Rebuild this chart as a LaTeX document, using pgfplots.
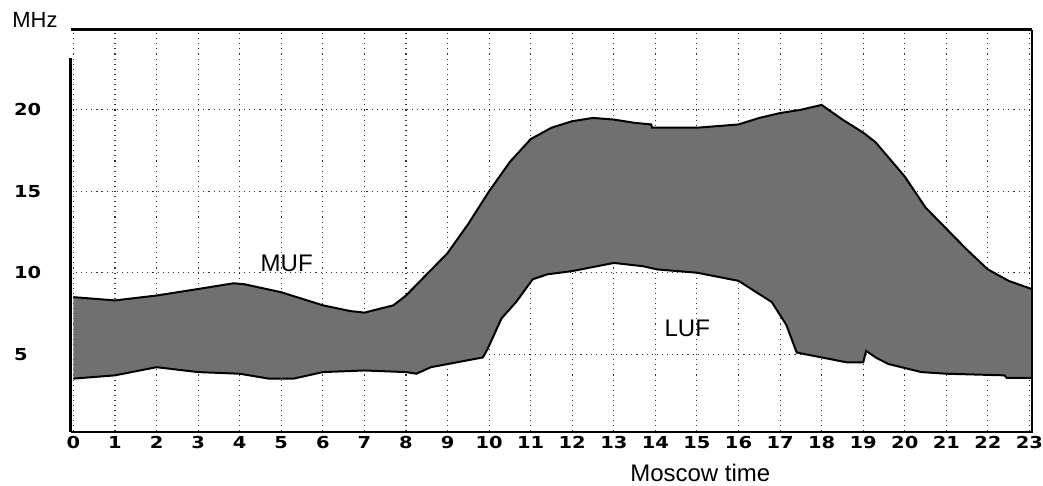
\documentclass[border=0pt]{standalone}
\usepackage{pgfplots}
\pgfplotsset{compat=1.18}
\usepgfplotslibrary{fillbetween}
\usepackage{pgfplotstable}
\usepackage{fontspec}
\setmainfont{Liberation Sans}
\newfontfamily\tickfont{DejaVu Sans}[FakeStretch=1.18]
\definecolor{bandgray}{RGB}{112,112,112}

\pgfplotstableread{
h f
0 8.5
1 8.3
2 8.6
3 9.0
3.85 9.35
4.1 9.3
5 8.8
6 8.0
6.65 7.65
7 7.55
7.7 8.0
8 8.6
8.5 9.9
9 11.2
9.5 13.0
10 15.0
10.5 16.8
11 18.2
11.5 18.9
12 19.3
12.5 19.5
13 19.4
13.5 19.2
13.9 19.1
13.92 18.9
15 18.9
16 19.1
16.5 19.5
17 19.8
17.5 20.0
18 20.3
18.5 19.4
19 18.6
19.3 18.0
20 15.9
20.5 14.0
21 12.7
21.5 11.4
22 10.2
22.5 9.5
23.05 9.0
}\muf

\pgfplotstableread{
h f
0 3.5
1 3.7
2 4.2
3 3.9
4 3.8
4.7 3.5
5.3 3.5
6 3.9
7 4.0
8 3.9
8.25 3.8
8.6 4.2
9.85 4.8
9.96 5.3
10.3 7.2
10.65 8.2
11.05 9.6
11.4 9.9
12 10.1
13 10.6
13.7 10.4
14.05 10.2
15 10.0
16 9.5
16.8 8.2
17.15 6.8
17.4 5.1
18 4.8
18.6 4.5
19 4.5
19.07 5.2
19.3 4.8
19.6 4.4
20.4 3.9
21 3.8
22.4 3.7
22.45 3.55
23.05 3.55
}\luf

\begin{document}
\begin{tikzpicture}
\begin{axis}[
  at={(71pt,54pt)}, anchor=south west, scale only axis,
  width=962pt, height=402pt,
  xmin=-0.06, xmax=23.06, ymin=0.25, ymax=24.9,
  xtick={0,...,23}, ytick={5,10,15,20},
  major tick length=0pt,
  grid=major,
  grid style={black!80, line width=1.1pt, dash pattern=on 1.1pt off 4pt},
  axis line style={draw=none},
  clip=false,
  /pgf/number format/assume math mode=true,
  tick label style={font=\tickfont\bfseries\fontsize{16.5}{20}\selectfont},
  yticklabel style={anchor=west, inner sep=0pt, xshift=-57pt},
  xticklabel style={inner sep=0pt, yshift=-5pt},
]
\addplot[draw=none, name path=A] table[x=h, y=f] {\muf};
\addplot[draw=none, name path=B] table[x=h, y=f] {\luf};
\addplot[fill=bandgray, draw=none] fill between[of=A and B];
\addplot[black, line width=2pt] table[x=h, y=f] {\muf};
\addplot[black, line width=2pt] table[x=h, y=f] {\luf};
\draw[line width=3pt] (rel axis cs:0,1) -- (rel axis cs:1,1);
\draw[line width=2pt] (rel axis cs:1,1) -- (rel axis cs:1,0) -- (rel axis cs:0,0);
\draw[line width=3pt] (rel axis cs:0,0) -- (rel axis cs:0,0.93);
\end{axis}
\node[font=\fontsize{22}{26}\selectfont] at (35pt,466pt) {MHz};
\node[font=\fontsize{24}{28}\selectfont] at (287pt,222pt) {MUF};
\node[font=\fontsize{24}{28}\selectfont] at (688pt,157pt) {LUF};
\node[font=\fontsize{24}{28}\selectfont] at (701pt,13pt) {Moscow time};
\path (0,0) rectangle (1043pt,486pt);
\end{tikzpicture}
\end{document}
